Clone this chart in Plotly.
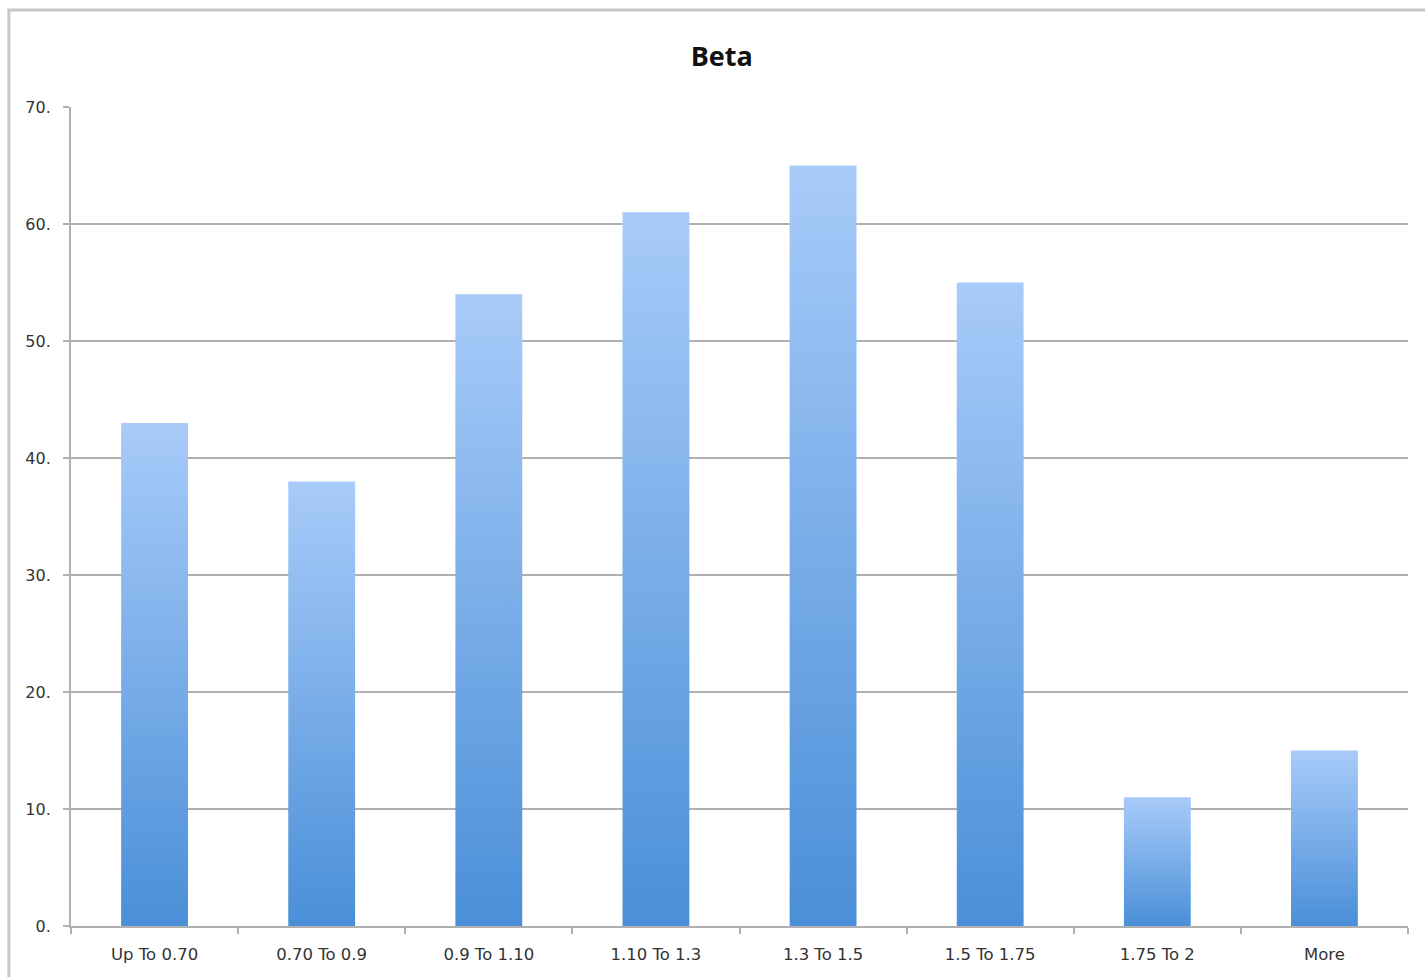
import plotly.graph_objects as go

# Histogram of beta buckets
categories = ["Up To 0.70", "0.70 To 0.9", "0.9 To 1.10", "1.10 To 1.3",
              "1.3 To 1.5", "1.5 To 1.75", "1.75 To 2", "More"]
counts = [43, 38, 54, 61, 65, 55, 11, 15]
y_ticks = [0, 10, 20, 30, 40, 50, 60, 70]
y_tick_labels = [f"{v}." for v in y_ticks]

BAR_WIDTH = 0.4
TOP_COLOR = "#a8cbf9"
BOTTOM_COLOR = "#4a8fd8"

fig = go.Figure()

# Each bar is a filled rectangle so it can carry its own vertical gradient
for i, (cat, val) in enumerate(zip(categories, counts)):
    x0, x1 = i - BAR_WIDTH / 2, i + BAR_WIDTH / 2
    fig.add_trace(go.Scatter(
        x=[x0, x1, x1, x0, x0],
        y=[0, 0, val, val, 0],
        mode="lines",
        line=dict(width=0),
        fill="toself",
        fillgradient=dict(
            type="vertical",
            colorscale=[[0, BOTTOM_COLOR], [1, TOP_COLOR]],
        ),
        name=cat,
        hoverinfo="text",
        text=f"{cat}: {val}",
        showlegend=False,
    ))

axis_grey = "#b0b0b0"
label_font = "DejaVu Sans, Verdana, sans-serif"
fig.update_layout(
    width=1425,
    height=977,
    margin=dict(l=71, r=17, t=107, b=51),
    paper_bgcolor="white",
    plot_bgcolor="white",
    title=dict(
        text="<b>Beta</b>",
        x=0.5065, xanchor="center",
        y=0.942, yanchor="middle",
        font=dict(family="Open Sans, DejaVu Sans, sans-serif", size=27, color="#111111"),
    ),
    font=dict(family=label_font, color="#333333"),
    xaxis=dict(
        range=[-0.5, len(categories) - 0.5],
        tickmode="array",
        tickvals=list(range(len(categories))),
        ticktext=categories,
        ticks="",
        ticklabelstandoff=12,
        tickfont=dict(family=label_font, size=16.5, color="#333333"),
        showgrid=False,
        zeroline=False,
        showline=True,
        linecolor=axis_grey,
        linewidth=2,
        minor=dict(
            tickmode="array",
            tickvals=[i - 0.5 for i in range(len(categories) + 1)],
            ticks="outside",
            ticklen=6,
            tickwidth=2,
            tickcolor=axis_grey,
            showgrid=False,
        ),
        fixedrange=True,
    ),
    yaxis=dict(
        range=[0, 70],
        tickmode="array",
        tickvals=y_ticks,
        ticktext=y_tick_labels,
        ticks="outside",
        ticklen=6,
        tickwidth=2,
        tickcolor=axis_grey,
        ticklabelstandoff=9,
        tickfont=dict(family=label_font, size=16, color="#333333"),
        showgrid=True,
        gridcolor=axis_grey,
        gridwidth=2,
        zeroline=False,
        showline=True,
        linecolor=axis_grey,
        linewidth=2,
        fixedrange=True,
    ),
)

# Chart frame running off the page at right and bottom
fig.add_shape(
    type="rect", xref="paper", yref="paper",
    x0=-0.0465, x1=1.02, y0=-0.07, y1=1.1185,
    line=dict(color="#c6c6c6", width=3),
    fillcolor="rgba(0,0,0,0)",
    layer="below",
)

fig.write_html("out.html")
